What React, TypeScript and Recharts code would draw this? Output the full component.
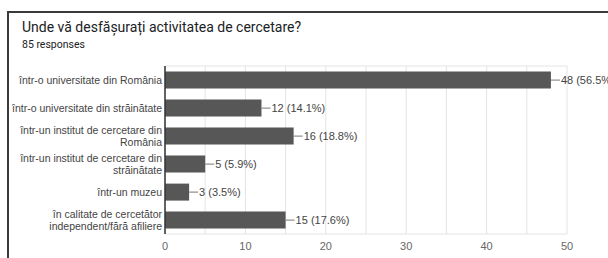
import React from "react";
import {
  BarChart,
  Bar,
  XAxis,
  YAxis,
  CartesianGrid,
  LabelList,
} from "recharts";

// ============================================================
// Data
// ============================================================

const CATEGORIES = [
  "într-o universitate din România",
  "într-o universitate din străinătate",
  "într-un institut de cercetare din România",
  "într-un institut de cercetare din străinătate",
  "într-un muzeu",
  "în calitate de cercetător independent/fără afiliere",
];

const COUNTS = [48, 12, 16, 5, 3, 15];
const PERCENTS = ["56.5%", "14.1%", "18.8%", "5.9%", "3.5%", "17.6%"];
const X_TICKS = [0, 5, 10, 15, 20, 25, 30, 35, 40, 45, 50];

const TITLE = "Unde vă desfășurați activitatea de cercetare?";
const SUBTITLE = "85 responses";

// ============================================================
// Constants
// ============================================================

const TITLE_FONT = "Roboto, 'Noto Sans', sans-serif";
const CHART_FONT = "'Liberation Sans', Arial, sans-serif";
const BAR_COLOR = "#575757";
const GRID_COLOR = "#e4e4e4";
const LABEL_COLOR = "#444444";
const TICK_COLOR = "#666666";
const CAT_FONT_SIZE = 10.5;
const WRAP_WIDTH = 152;
const LINE_HEIGHT = 11.5;

const data = CATEGORIES.map((name, i) => ({
  name,
  count: COUNTS[i],
  label: `${COUNTS[i]} (${PERCENTS[i]})`,
}));

// ============================================================
// Label wrapping (greedy, measured with canvas)
// ============================================================

let ctx: CanvasRenderingContext2D | null = null;
function measure(s: string): number {
  if (!ctx) {
    ctx = document.createElement("canvas").getContext("2d");
  }
  if (!ctx) return s.length * 5;
  ctx.font = `${CAT_FONT_SIZE}px ${CHART_FONT}`;
  return ctx.measureText(s).width;
}

function wrap(label: string): string[] {
  const words = label.split(" ");
  const lines: string[] = [];
  let cur = "";
  for (const w of words) {
    const next = cur ? cur + " " + w : w;
    if (cur && measure(next) > WRAP_WIDTH) {
      lines.push(cur);
      cur = w;
    } else {
      cur = next;
    }
  }
  if (cur) lines.push(cur);
  return lines;
}

function renderCategoryTick(props: any) {
  const { y, payload } = props;
  const x = 162;
  const lines = wrap(payload.value);
  const startY = y - ((lines.length - 1) * LINE_HEIGHT) / 2;
  return (
    <text
      x={x}
      y={startY}
      textAnchor="end"
      dominantBaseline="central"
      fill={LABEL_COLOR}
      fontSize={CAT_FONT_SIZE}
      fontFamily={CHART_FONT}
    >
      {lines.map((l, i) => (
        <tspan key={i} x={x} y={startY + i * LINE_HEIGHT}>
          {l}
        </tspan>
      ))}
    </text>
  );
}

function renderValueLabel(props: any) {
  const { x, y, width, height, value } = props;
  const endX = x + width;
  const midY = y + height / 2;
  return (
    <g>
      <line x1={endX} y1={midY} x2={endX + 9} y2={midY} stroke="#777" strokeWidth={1} />
      <text
        x={endX + 10}
        y={midY}
        dominantBaseline="central"
        fill={LABEL_COLOR}
        fontSize={11}
        fontFamily={CHART_FONT}
      >
        {value}
      </text>
    </g>
  );
}

// ============================================================
// Component
// ============================================================

export default function App() {
  return (
    <div
      style={{
        position: "absolute",
        left: 0,
        top: 0,
        width: 608,
        height: 258,
        background: "#fff",
        overflow: "hidden",
        fontFamily: TITLE_FONT,
      }}
    >
      {/* card frame */}
      <div
        style={{
          position: "absolute",
          left: 7,
          top: 11,
          width: 610,
          height: 260,
          borderTop: "2px solid #3a3a3a",
          borderLeft: "2px solid #3a3a3a",
        }}
      />
      <div
        style={{
          position: "absolute",
          left: 22,
          top: 18,
          fontSize: 14,
          lineHeight: "18px",
          color: "#202124",
          whiteSpace: "nowrap",
        }}
      >
        {TITLE}
      </div>
      <div
        style={{
          position: "absolute",
          left: 22,
          top: 38,
          fontSize: 10.5,
          lineHeight: "13px",
          color: "#202124",
        }}
      >
        {SUBTITLE}
      </div>
      <div style={{ position: "absolute", left: 0, top: 0 }}>
        <BarChart
          width={608}
          height={258}
          data={data}
          layout="vertical"
          margin={{ top: 66, right: 41, bottom: 0, left: 0 }}
          barCategoryGap="20%"
        >
          <CartesianGrid
            stroke={GRID_COLOR}
            horizontalCoordinatesGenerator={({ offset }: any) => [
              offset.top,
              offset.top + offset.height,
            ]}
          />
          <XAxis
            type="number"
            domain={[0, 50]}
            ticks={X_TICKS}
            interval={0}
            height={24}
            axisLine={false}
            tickLine={false}
            tickFormatter={(v: number) => (v % 10 === 0 ? String(v) : "")}
            tick={{ fill: TICK_COLOR, fontSize: 11, fontFamily: CHART_FONT }}
          />
          <YAxis
            type="category"
            dataKey="name"
            width={165}
            axisLine={{ stroke: "#333", strokeWidth: 1.5 }}
            tickLine={false}
            tick={renderCategoryTick}
            interval={0}
          />
          <Bar dataKey="count" fill={BAR_COLOR} isAnimationActive={false}>
            <LabelList dataKey="label" content={renderValueLabel} />
          </Bar>
        </BarChart>
      </div>
    </div>
  );
}
